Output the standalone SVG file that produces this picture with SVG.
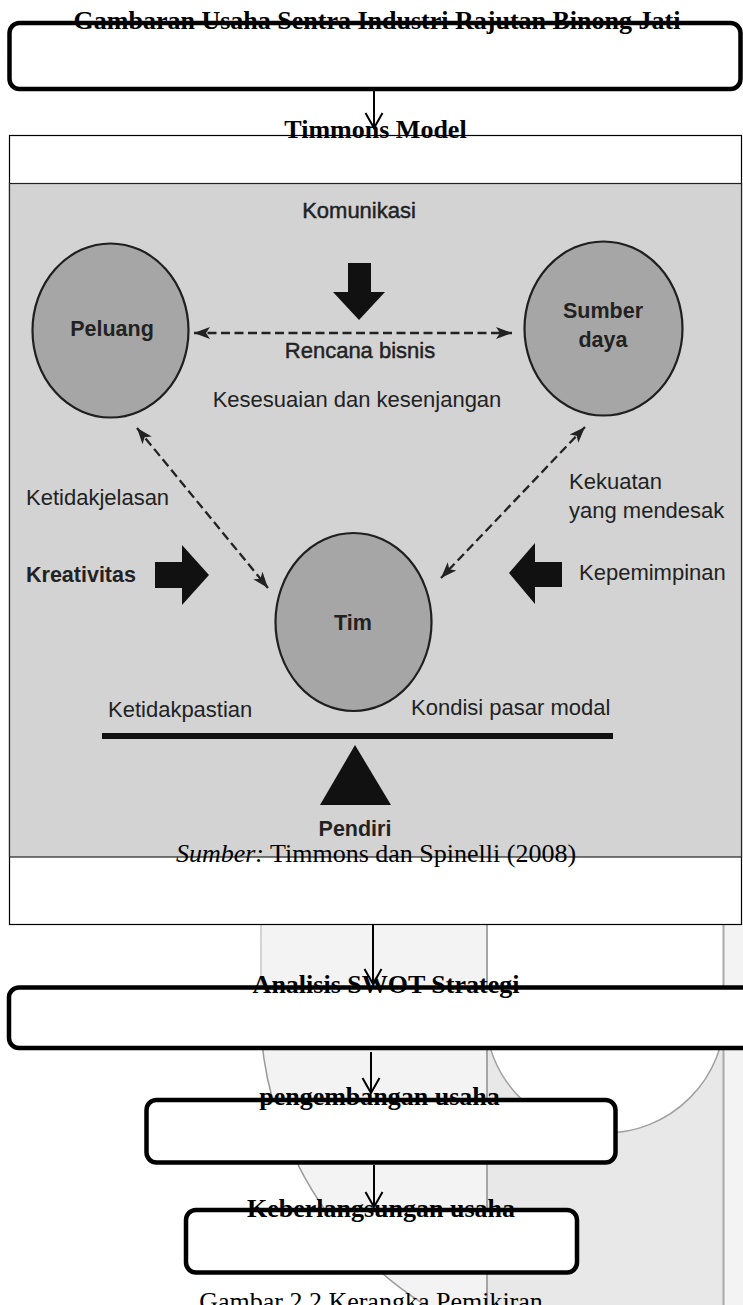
<svg xmlns="http://www.w3.org/2000/svg" width="743" height="1305" viewBox="0 0 743 1305">
<defs>
<style>
.box{fill:#fff;stroke:#000;stroke-width:4.5}
.ttl{font-family:"Liberation Serif",serif;font-weight:bold;font-size:26px;fill:#000;text-anchor:middle}
.ser{font-family:"Liberation Serif",serif;font-size:26px;fill:#000;text-anchor:middle}
.sr{font-family:"Liberation Sans",Arial,sans-serif;font-size:22px;fill:#222}
.sb{font-family:"Liberation Sans",Arial,sans-serif;font-size:21.5px;font-weight:bold;fill:#222}
.med{stroke:#222;stroke-width:0.45}
.mid{text-anchor:middle}
.oval{fill:#a6a6a6;stroke:#1f1f1f;stroke-width:2.2}
.dash{stroke:#222;stroke-width:2.3;fill:none;stroke-dasharray:9 4.5;marker-start:url(#ah);marker-end:url(#ah)}
.conn{stroke:#000;stroke-width:2;fill:none;marker-end:url(#v)}
.blk{fill:#111}
</style>
<clipPath id="low"><rect x="0" y="995" width="743" height="310"/></clipPath>
<marker id="ah" viewBox="-1 -7 17 14" refX="16" refY="0" markerWidth="17" markerHeight="14" markerUnits="userSpaceOnUse" orient="auto-start-reverse">
<path d="M0,-6 L16,0 L0,6 L4,0 Z" fill="#222"/>
</marker>
<marker id="v" viewBox="-17 -10 19 20" refX="0" refY="0" markerWidth="19" markerHeight="20" markerUnits="userSpaceOnUse" orient="auto">
<path d="M-15,-8.5 L0,0 L-15,8.5" fill="none" stroke="#000" stroke-width="2"/>
</marker>
</defs>
<rect x="0" y="0" width="743" height="1305" fill="#fff"/>

<g id="background-artifacts">
<path d="M261,924 L487,924 L487,1305 L425,1305 A355,355 0 0 1 260,1005 Z" fill="#f3f3f3"/>
<line x1="261" y1="924" x2="261" y2="1006" stroke="#c8c8c8" stroke-width="1.5"/>
<path d="M425,1305 A355,355 0 0 1 260,1005" fill="none" stroke="#9a9a9a" stroke-width="1.5"/>
<g clip-path="url(#low)">
<rect x="487" y="995" width="236" height="310" fill="#e8e8e8"/>
<circle cx="605" cy="1013" r="120" fill="#fff" stroke="#a0a0a0" stroke-width="1.5"/>
</g>
<line x1="487" y1="924" x2="487" y2="1305" stroke="#a5a5a5" stroke-width="2"/>
<rect x="724" y="924" width="19" height="381" fill="#f3f3f3"/>
<line x1="723.5" y1="924" x2="723.5" y2="1305" stroke="#aaa" stroke-width="2"/>
</g>

<g id="node-gambaran">
<rect class="box" x="9.5" y="23" width="731" height="66" rx="10"/>
<text class="ttl" x="377" y="29">Gambaran Usaha Sentra Industri Rajutan Binong Jati</text>
</g>

<g id="node-timmons">
<rect x="9.5" y="135.5" width="732" height="789" fill="#fff" stroke="#000" stroke-width="1.2"/>
<g id="timmons-figure">
<rect x="9.5" y="183.5" width="732" height="673.5" fill="#d3d3d3" stroke="#222" stroke-width="1.2"/>
<text class="sr med mid" x="359" y="218">Komunikasi</text>
<polygon class="blk" points="348,263 371,263 371,292 385,292 359,320 333,292 348,292"/>
<ellipse class="oval" cx="110.5" cy="330.5" rx="78" ry="87"/>
<text class="sb mid" x="112" y="336">Peluang</text>
<ellipse class="oval" cx="603.5" cy="328.5" rx="79" ry="87"/>
<text class="sb mid" x="603" y="318">Sumber</text>
<text class="sb mid" x="603" y="347">daya</text>
<line class="dash" x1="194" y1="333" x2="512" y2="333"/>
<text class="sr med mid" x="360" y="358">Rencana bisnis</text>
<text class="sr mid" x="357" y="407">Kesesuaian dan kesenjangan</text>
<line class="dash" x1="137" y1="428" x2="268" y2="588"/>
<line class="dash" x1="585" y1="427" x2="441" y2="578"/>
<text class="sr" x="26" y="505">Ketidakjelasan</text>
<text class="sr" x="569" y="489">Kekuatan</text>
<text class="sr" x="569" y="518">yang mendesak</text>
<text class="sb" x="26" y="582">Kreativitas</text>
<polygon class="blk" points="155,562 182,562 182,545 209,575 182,605 182,588 155,588"/>
<polygon class="blk" points="562,562 535,562 535,543 509,573 535,604 535,587 562,587"/>
<text class="sr" x="579" y="580">Kepemimpinan</text>
<ellipse class="oval" cx="353.5" cy="622" rx="78" ry="89"/>
<text class="sb mid" x="353" y="630">Tim</text>
<text class="sr" x="108" y="717">Ketidakpastian</text>
<text class="sr" x="411" y="715">Kondisi pasar modal</text>
<line x1="102" y1="736" x2="613" y2="736" stroke="#111" stroke-width="6"/>
<polygon class="blk" points="355,745 391,805 320,805"/>
<text class="sb mid" x="355" y="836">Pendiri</text>
</g>
<text class="ttl" x="375.5" y="138">Timmons Model</text>
<text class="ser" x="376" y="862"><tspan font-style="italic">Sumber:</tspan> Timmons dan Spinelli (2008)</text>
</g>

<g id="node-swot">
<rect class="box" x="9" y="987.5" width="760" height="60.5" rx="10"/>
<text class="ttl" x="386" y="993">Analisis SWOT Strategi</text>
</g>

<g id="node-pengembangan">
<rect class="box" x="146.5" y="1100" width="469" height="62.5" rx="10"/>
<text class="ttl" x="379.5" y="1105">pengembangan usaha</text>
</g>

<g id="node-keberlangsungan">
<rect class="box" x="186" y="1210" width="391" height="62.5" rx="10"/>
<text class="ttl" x="381" y="1217">Keberlangsungan usaha</text>
</g>

<g id="connectors">
<line class="conn" x1="374" y1="91" x2="374" y2="128"/>
<line class="conn" x1="373" y1="925" x2="373" y2="984"/>
<line class="conn" x1="371" y1="1052" x2="371" y2="1093"/>
<line class="conn" x1="374" y1="1165" x2="374" y2="1207"/>
</g>

<text class="ser" x="371" y="1310">Gambar 2.2 Kerangka Pemikiran</text>
</svg>
